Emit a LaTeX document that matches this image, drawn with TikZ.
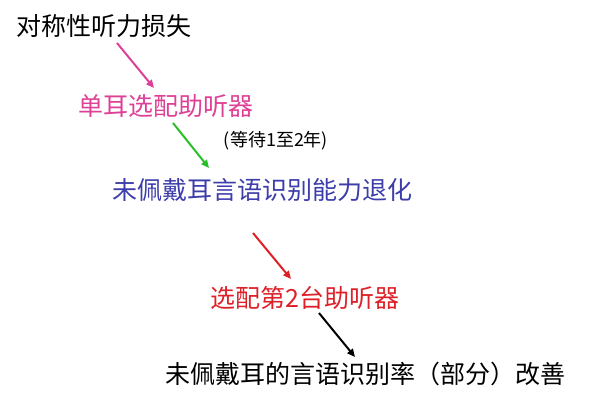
\documentclass[tikz,border=0pt]{standalone}
\usepackage{fontspec}
\setmainfont{Noto Sans CJK SC}
\usetikzlibrary{arrows.meta}
\definecolor{stepPink}{RGB}{222,64,150}
\definecolor{stepGreen}{RGB}{40,190,40}
\definecolor{stepBlue}{RGB}{60,60,170}
\definecolor{stepRed}{RGB}{222,32,40}

\begin{document}
\begin{tikzpicture}[x=1pt,y=-1pt,
  steplabel/.style={inner sep=0pt,font=\fontsize{25}{30}\selectfont},
  steparrow/.style={line width=2pt,-{Triangle[length=8pt,width=7pt]}}]
  \useasboundingbox (0,0) rectangle (591,412);

% steps
  \node[steplabel] (loss) at (104,26) {对称性听力损失};
  \node[steplabel,text=stepPink] (mono) at (166,106) {单耳选配助听器};
  \node[inner sep=0pt,font=\fontsize{18}{21}\selectfont] (wait) at (276,141) {(等待1至2年)};
  \node[steplabel,text=stepBlue] (decline) at (262,190) {未佩戴耳言语识别能力退化};
  \node[steplabel,text=stepRed] (second) at (305,298) {选配第2台助听器};
  \node[steplabel] (better) at (365,374) {未佩戴耳的言语识别率（部分）改善};

% arrow ends
  \coordinate (a1) at (117,43);  \coordinate (b1) at (154,88);
  \coordinate (a2) at (173,123); \coordinate (b2) at (209,168);
  \coordinate (a3) at (253,233); \coordinate (b3) at (291,279);
  \coordinate (a4) at (319,313); \coordinate (b4) at (355,357);

% arrows
  \draw[steparrow,stepPink]  (a1) -- (b1);
  \draw[steparrow,stepGreen] (a2) -- (b2);
  \draw[steparrow,stepRed]   (a3) -- (b3);
  \draw[steparrow,black]     (a4) -- (b4);
\end{tikzpicture}
\end{document}
